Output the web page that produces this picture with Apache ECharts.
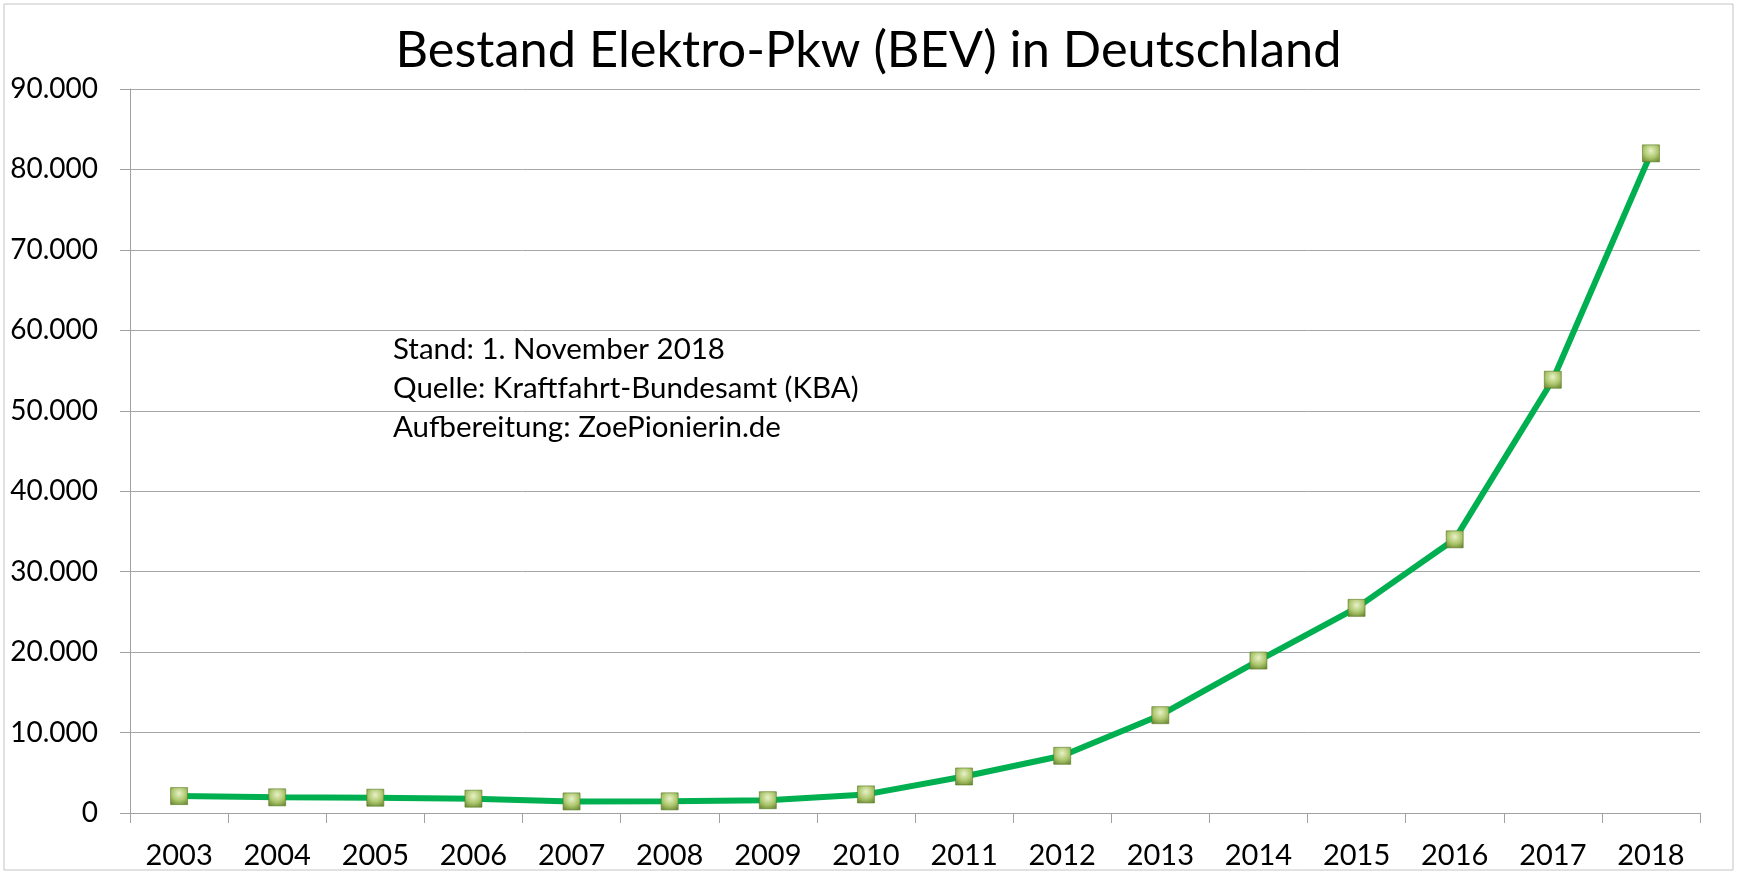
<!DOCTYPE html>
<html>
<head>
<meta charset="utf-8">
<script src="https://cdn.jsdelivr.net/npm/echarts@6/dist/echarts.min.js"></script>
<style>
html,body{margin:0;padding:0;background:#fff;}
#chart{width:1737px;height:873px;}
</style>
</head>
<body>
<div id="chart"></div>
<script>
const years = ['2003','2004','2005','2006','2007','2008','2009','2010','2011','2012','2013','2014','2015','2016','2017','2018'];
const bestand = [2100,1950,1900,1780,1440,1450,1590,2310,4540,7110,12160,18950,25500,34020,53860,82000];
const yTicks = {min:0, max:90000, interval:10000};
const titleText = 'Bestand Elektro-Pkw (BEV) in Deutschland';
const noteLines = ['Stand: 1. November 2018','Quelle: Kraftfahrt-Bundesamt (KBA)','Aufbereitung: ZoePionierin.de'];

const FONT = 'Lato';
const chart = echarts.init(document.getElementById('chart'), null, {renderer:'canvas'});
function fmt(v){
  if (v === 0) return '0';
  const s = String(Math.round(v));
  return s.replace(/\B(?=(\d{3})+(?!\d))/g, '.');
}
chart.setOption({
  backgroundColor:'#ffffff',
  animation:false,
  title:{
    text:titleText,
    left:'center',
    top:20,
    textStyle:{fontFamily:FONT, fontSize:50.5, fontWeight:'normal', color:'#000'}
  },
  grid:{left:130, right:37, top:89, bottom:60, containLabel:false},
  xAxis:{
    type:'category',
    data:years,
    boundaryGap:true,
    axisLine:{show:true, lineStyle:{color:'#a0a0a0', width:1}},
    axisTick:{show:true, length:10, lineStyle:{color:'#a0a0a0'}},
    axisLabel:{fontFamily:FONT, fontSize:29, color:'#000', margin:28}
  },
  yAxis:{
    type:'value',
    min:yTicks.min, max:yTicks.max, interval:yTicks.interval,
    axisLine:{show:true, lineStyle:{color:'#a0a0a0', width:1}},
    axisTick:{show:true, length:10, lineStyle:{color:'#a0a0a0'}},
    splitLine:{show:true, lineStyle:{color:'#a6a6a6', width:1}},
    axisLabel:{fontFamily:FONT, fontSize:28, color:'#000', margin:32, align:'right', formatter:fmt}
  },
  series:[{
    type:'line',
    data:bestand,
    symbol:'rect',
    symbolSize:17,
    lineStyle:{color:'#00b050', width:6},
    itemStyle:{
      color:{type:'radial', x:0.5, y:0.35, r:0.8, colorStops:[
        {offset:0, color:'#e8f1c8'},{offset:0.5, color:'#adc76e'},{offset:1, color:'#5d7d25'}]},
      borderColor:'#587824', borderWidth:0.6
    },
    emphasis:{disabled:true}
  }],
  graphic:[
    {type:'rect', shape:{x:4, y:4, width:1729, height:866}, style:{fill:'none', stroke:'#c4c4c4', lineWidth:1}, silent:true},
    {type:'text', left:393, top:330, style:{text:noteLines.join('\n'), fontFamily:FONT, fontSize:29.5, lineHeight:39, fill:'#000'}}
  ]
});
</script>
</body>
</html>
